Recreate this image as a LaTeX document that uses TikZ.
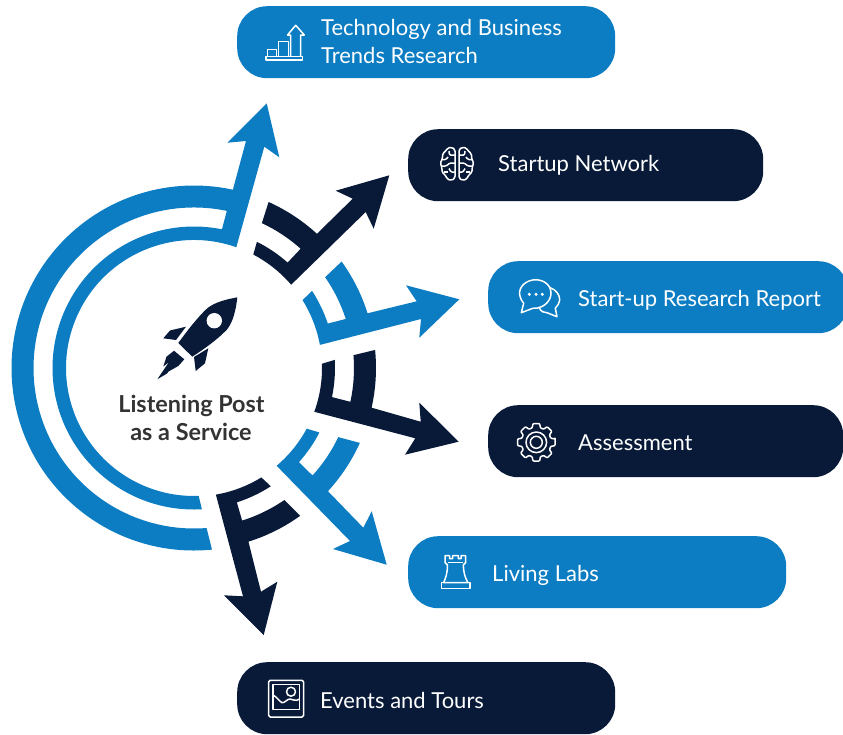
\documentclass[tikz,border=0pt]{standalone}
\usepackage{fontspec}
\setmainfont{Lato}
\definecolor{lpblue}{HTML}{0C7DC3}
\definecolor{lpnavy}{HTML}{081A38}
\definecolor{lpgray}{HTML}{333333}
\def\arcB#1#2#3{-- ([shift={(194,368)}]#2:#1) arc[start angle=#2,end angle=#3,radius=#1]}
\tikzset{
  pill/.style={rounded corners=30pt,minimum height=72pt,inner sep=0pt,anchor=north west},
  lab/.style={text=white,anchor=base west,inner sep=0pt,font=\fontsize{22}{26}\selectfont},
  center text/.style={text=lpgray,anchor=base,inner sep=0pt,font=\fontsize{23.4}{26}\selectfont\bfseries},
  ico/.style={draw=white,line width=1.5pt,line join=round,fill=none},
}
\newcommand{\brainhalf}{%
  \draw[ico,rounded corners=1.6pt] (455,149.5) -- (452,147.3) -- (447.5,148) -- (445.5,151.5) -- (442.5,153.5) -- (442.5,158.5) -- (440.3,163) -- (442,168) -- (442,172.5) -- (445.5,175) -- (447,179) -- (451.5,180.5) -- (455,178) -- cycle;
  \draw[ico,rounded corners=1pt] (442,159.5) -- (446,159.5) -- (448,157);
  \draw[ico,rounded corners=1pt] (455,155) -- (449.5,155) -- (449,151);
  \draw[ico,rounded corners=1pt] (455,163) -- (450,163) -- (446,166) -- (442,166);
  \draw[ico,rounded corners=1pt] (455,172) -- (451,172) -- (449,168.5);
  \draw[ico,rounded corners=1pt] (448,172) -- (444,172);
}
\begin{document}
\begin{tikzpicture}[x=1pt,y=-1pt]
\useasboundingbox (0,0) rectangle (843,734);

% pills
\node[pill,fill=lpblue,minimum width=378pt] (p1) at (237,6) {};
\node[pill,fill=lpnavy,minimum width=355pt] (p2) at (408,129) {};
\node[pill,fill=lpblue,minimum width=360pt] (p3) at (488,261) {};
\node[pill,fill=lpnavy,minimum width=355pt] (p4) at (488,405) {};
\node[pill,fill=lpblue,minimum width=378pt] (p5) at (408,536) {};
\node[pill,fill=lpnavy,minimum width=378pt] (p6) at (237,662) {};

% labels
\node[lab] (t1a) at (321,35.5) {Technology and Business};
\node[lab] (t1b) at (321,63.5) {Trends Research};
\node[lab] (t2) at (498,171.5) {Startup Network};
\node[lab] (t3) at (578,306.5) {Start-up Research Report};
\node[lab] (t4) at (578,450.5) {Assessment};
\node[lab] (t5) at (492,581.5) {Living Labs};
\node[lab] (t6) at (320,708.5) {Events and Tours};
\node[center text] (c1) at (191.5,412) {Listening Post};
\node[center text] (c2) at (191,440) {as a Service};

% arrows
\fill[lpblue] (266.7,103.3) -- (279.3,157.3) -- (264.3,146.7) \arcB{128}{289.3}{87.9} \arcB{141.5}{86.8}{281.4} \arcB{160.5}{281.8}{85.5} \arcB{182.5}{84.35}{282.3} -- (246,141) -- (227.3,142.7) -- cycle;
\fill[lpnavy] (389.3,175.3) -- (373.7,228.7) -- (365.7,212) \arcB{128}{319.4}{297.6} \arcB{141}{296.5}{311.6} \arcB{160}{311.8}{295.1} \arcB{182}{294.2}{312.5} -- (352.7,198.7) -- (335.7,190.7) -- cycle;
\fill[lpblue] (459.3,299.3) -- (419.3,337.7) -- (421,319) \arcB{128}{349.6}{328} \arcB{141}{326.8}{341.6} \arcB{159.5}{342.1}{325.3} \arcB{182}{324.2}{342.5} -- (416.7,301.3) -- (406,285.3) -- cycle;
\fill[lpnavy] (458.7,441.7) -- (405,454.7) -- (415.3,438.3) \arcB{128}{380}{358.1} \arcB{141}{356.7}{371.9} \arcB{160}{372.2}{355.4} \arcB{182}{354.3}{372.6} -- (420.7,421.7) -- (419.3,402.7) -- cycle;
\fill[lpblue] (386.7,564.7) -- (333,549) -- (350,541) \arcB{128}{49.8}{28.3} \arcB{141}{27.2}{41.9} \arcB{160}{42.2}{25.6} \arcB{182}{24.3}{42.6} -- (363.3,527.7) -- (371.7,511.3) -- cycle;
\fill[lpnavy] (263.7,635) -- (224,595.3) -- (243,596.3) \arcB{128.5}{80.2}{58.4} \arcB{141}{57}{72.3} \arcB{160}{72.5}{55.6} \arcB{182}{54.3}{72.6} -- (261,591.7) -- (277.3,581.7) -- cycle;

% rocket
\fill[lpnavy] (237.3,297.3) .. controls (226,299.5) and (215,302) .. (207,308.5) .. controls (197,318) and (187,331) .. (178.3,343) -- (192.3,356.7) .. controls (204,349) and (217,340) .. (227,329.5) .. controls (233,322) and (236,310) .. (237.3,297.3) -- cycle;
\fill[white] (214.3,320.7) circle[radius=7.7];
\fill[lpnavy] (186,326.7) -- (170,330.5) -- (163.3,338.3) -- (176,340) -- cycle;
\fill[lpnavy] (208.3,348.3) -- (194,357) -- (195.7,371) -- (205,363.3) -- cycle;
\fill[lpnavy] (174,350.7) -- (166.5,356.7) -- (163.3,366.5) -- (169,362) -- (157.3,379.3) -- (167,373.5) -- (168.5,371.5) -- (178.3,366) -- (184.3,359.3) -- cycle;

% icon: chart
\draw[ico] (266,56.7) rectangle (302.5,60);
\draw[ico] (267.5,56.7) -- (267.5,49.3) -- (276.7,49.3) -- (276.7,56.7);
\draw[ico] (278.3,56.7) -- (278.3,41.7) -- (288.3,41.7) -- (288.3,56.7);
\draw[ico] (290.7,56.7) -- (290.7,35) -- (287.5,35) -- (295.7,25.3) -- (304.3,35) -- (300.5,35) -- (300.5,56.7);

% icon: brain
\brainhalf
\begin{scope}[shift={(914,0)},xscale=-1]
\brainhalf
\end{scope}

% icon: chat
\draw[ico] (523.7,303.3) .. controls (517,295) and (519,287) .. (526,282.5) .. controls (534,277.5) and (545,279.5) .. (549.5,287) .. controls (553.5,295) and (549,303) .. (542,306.5) .. controls (539,308) and (535.5,308.6) .. (532.7,308.3) -- (521.3,312.7) -- cycle;
\draw[ico] (549.7,287.5) .. controls (556,289.5) and (560,295) .. (559.7,300) .. controls (559.5,303) and (557.5,306) .. (555.3,308.3) -- (557,316.7) -- (547,312.7) .. controls (544,313) and (541,311.5) .. (539.3,308);
\fill[white] (529.3,294.3) circle[radius=1.7] (536,294.3) circle[radius=1.7] (542.3,294.3) circle[radius=1.7];

% icon: gear
\begin{scope}[shift={(536.3,442.3)}]
\draw[ico,rounded corners=0.8pt] (-10:19) \foreach \a in {0,45,...,315} { -- (\a-10:19) -- (\a+10:19) -- (\a+16:15) -- (\a+29:15) } -- cycle;
\draw[ico] (0,0) circle[radius=10.3];
\draw[ico] (0,0) circle[radius=6];
\end{scope}

% icon: rook
\draw[ico] (445,555.7) -- (449.7,555.7) -- (449.7,558.7) -- (452.7,558.7) -- (452.7,555.7) -- (458.3,555.7) -- (458.3,558.7) -- (461,558.7) -- (461,555.7) -- (465.7,555.7) -- (465.7,562.5) -- (463.3,565) .. controls (463.5,572) and (465,578) .. (468,582.7) -- (443.5,582.7) .. controls (446,578) and (447.5,572) .. (447.5,565) -- (445,562.5) -- cycle;
\draw[ico] (441.7,582.7) rectangle (470,588.7);
\draw[ico] (447.5,562.7) -- (463.3,562.7);

% icon: picture
\draw[ico,rounded corners=1.5pt] (268.7,680.3) rectangle (303.5,717);
\draw[ico] (273,684.3) rectangle (299.7,709.3);
\draw[ico] (291,691.7) circle[radius=4.5];
\draw[ico] (273,695) .. controls (277,697) and (279,701) .. (282,702.7) .. controls (285,703) and (287,699) .. (290,699) .. controls (293,699) and (295,702) .. (299.7,699);
\end{tikzpicture}
\end{document}
